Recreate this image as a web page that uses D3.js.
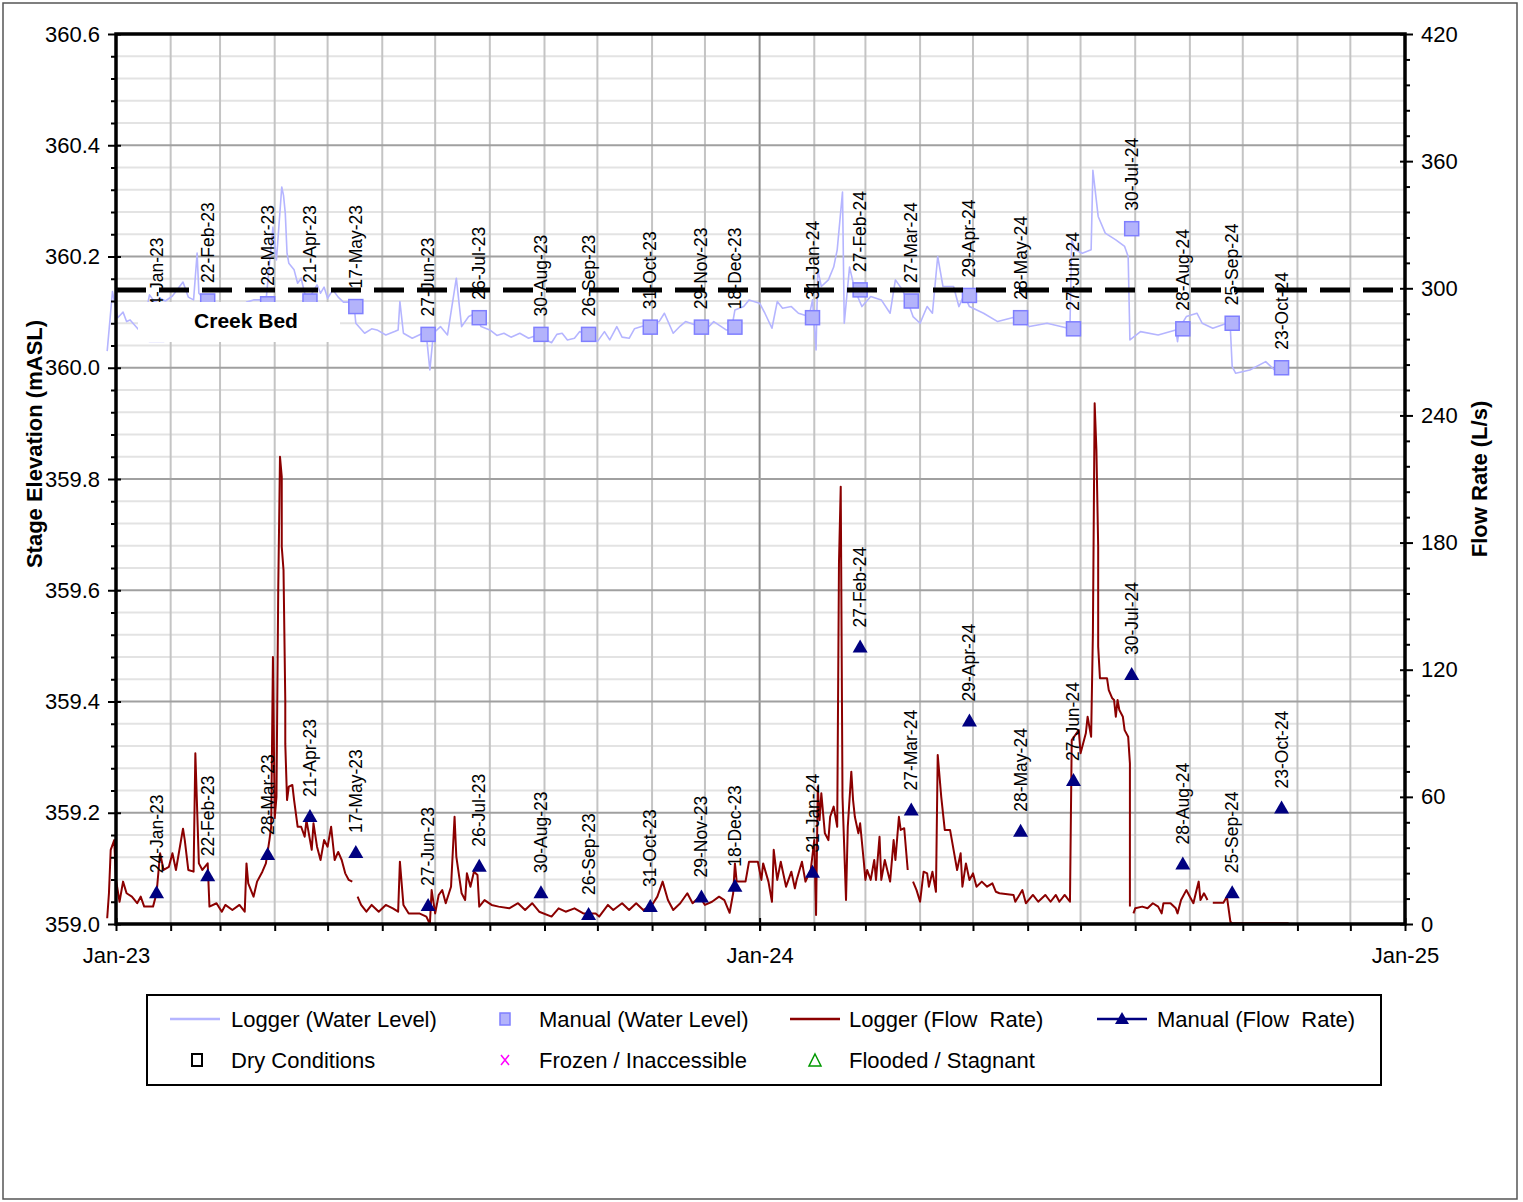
<!DOCTYPE html>
<html><head><meta charset="utf-8">
<script src="https://cdn.jsdelivr.net/npm/d3@7"></script>
<style>
body{margin:0;background:#fff}
text{font-family:"Liberation Sans",Arial,Helvetica,sans-serif;fill:#000}
</style>
</head><body>
<svg id="chart" width="1523" height="1202"></svg>
<script>
// ---------------- DATA ----------------
const levelTicks = [359.0, 359.2, 359.4, 359.6, 359.8, 360.0, 360.2, 360.4, 360.6];
const flowTicks = [0, 60, 120, 180, 240, 300, 360, 420];
const xTickDates = ["2023-01-01", "2024-01-01", "2025-01-01"];
const xTickLabels = ["Jan-23", "Jan-24", "Jan-25"];
const creekBed = 360.14;

const manualLabels = ["24-Jan-23","22-Feb-23","28-Mar-23","21-Apr-23","17-May-23","27-Jun-23","26-Jul-23","30-Aug-23","26-Sep-23","31-Oct-23","29-Nov-23","18-Dec-23","31-Jan-24","27-Feb-24","27-Mar-24","29-Apr-24","28-May-24","27-Jun-24","30-Jul-24","28-Aug-24","25-Sep-24","23-Oct-24"];
const manualLevel = [360.06,360.12,360.115,360.12,360.11,360.06,360.09,360.06,360.06,360.073,360.073,360.073,360.09,360.14,360.12,360.13,360.09,360.07,360.25,360.07,360.08,360.0];
const manualFlow = [15,23,33,51,34,9,27.5,15,4.7,8.5,13,18,24.7,131,54,96,44,68,118,28.6,15,55];

const loggerLevel = [
["2022-12-27",360.03],["2022-12-30",360.137],["2023-01-02",360.09],["2023-01-05",360.10],["2023-01-07",360.083],["2023-01-09",360.086],["2023-01-14",360.068],["2023-01-18",360.10],["2023-01-20",360.131],["2023-01-23",360.118],["2023-01-26",360.125],["2023-01-29",360.12],["2023-02-02",360.129],["2023-02-08",360.154],["2023-02-11",360.127],["2023-02-14",360.122],["2023-02-16",360.206],["2023-02-17",360.134],["2023-02-21",360.12],["2023-02-25",360.115],["2023-03-03",360.104],["2023-03-12",360.10],["2023-03-16",360.118],["2023-03-20",360.122],["2023-03-24",360.122],["2023-03-27",360.118],["2023-03-31",360.253],["2023-04-02",360.194],["2023-04-05",360.325],["2023-04-06",360.31],["2023-04-07",360.278],["2023-04-08",360.206],["2023-04-09",360.188],["2023-04-12",360.176],["2023-04-14",360.152],["2023-04-16",360.161],["2023-04-18",360.134],["2023-04-20",360.122],["2023-04-25",360.149],["2023-04-27",360.134],["2023-04-29",360.145],["2023-05-01",360.125],["2023-05-04",360.14],["2023-05-07",360.127],["2023-05-10",360.118],["2023-05-14",360.118],["2023-05-16",360.113],["2023-05-17",360.08],["2023-05-22",360.062],["2023-05-26",360.07],["2023-05-29",360.068],["2023-06-03",360.059],["2023-06-08",360.065],["2023-06-10",360.068],["2023-06-11",360.119],["2023-06-13",360.062],["2023-06-18",360.053],["2023-06-24",360.062],["2023-06-26",360.059],["2023-06-28",359.996],["2023-06-30",360.062],["2023-07-04",360.074],["2023-07-08",360.059],["2023-07-13",360.161],["2023-07-16",360.074],["2023-07-20",360.092],["2023-07-24",360.098],["2023-07-27",360.074],["2023-08-01",360.068],["2023-08-05",360.058],["2023-08-09",360.062],["2023-08-13",360.055],["2023-08-18",360.062],["2023-08-23",360.053],["2023-08-28",360.059],["2023-09-05",360.045],["2023-09-08",360.06],["2023-09-11",360.062],["2023-09-14",360.05],["2023-09-18",360.053],["2023-09-21",360.065],["2023-09-25",360.059],["2023-10-01",360.047],["2023-10-05",360.065],["2023-10-08",360.05],["2023-10-12",360.074],["2023-10-15",360.055],["2023-10-19",360.053],["2023-10-22",360.07],["2023-10-26",360.074],["2023-11-05",360.083],["2023-11-08",360.098],["2023-11-13",360.062],["2023-11-17",360.075],["2023-11-20",360.083],["2023-11-28",360.074],["2023-12-02",360.07],["2023-12-06",360.083],["2023-12-13",360.068],["2023-12-16",360.068],["2023-12-18",360.104],["2023-12-23",360.11],["2023-12-26",360.122],["2024-01-01",360.116],["2024-01-04",360.098],["2024-01-08",360.071],["2024-01-11",360.119],["2024-01-14",360.107],["2024-01-19",360.11],["2024-01-23",360.098],["2024-01-29",360.092],["2024-01-31",360.122],["2024-02-02",360.032],["2024-02-03",360.176],["2024-02-05",360.146],["2024-02-09",360.158],["2024-02-12",360.181],["2024-02-14",360.212],["2024-02-17",360.316],["2024-02-18",360.08],["2024-02-21",360.181],["2024-02-24",360.14],["2024-02-28",360.11],["2024-03-04",360.128],["2024-03-10",360.122],["2024-03-15",360.098],["2024-03-18",360.158],["2024-03-22",360.14],["2024-03-25",360.119],["2024-03-28",360.092],["2024-04-01",360.08],["2024-04-05",360.11],["2024-04-08",360.098],["2024-04-11",360.2],["2024-04-14",360.146],["2024-04-20",360.146],["2024-04-23",360.11],["2024-04-26",360.131],["2024-04-29",360.11],["2024-05-07",360.098],["2024-05-15",360.083],["2024-05-26",360.092],["2024-06-02",360.074],["2024-06-12",360.08],["2024-06-24",360.071],["2024-06-25",360.074],["2024-06-26",360.23],["2024-06-28",360.212],["2024-07-02",360.206],["2024-07-07",360.212],["2024-07-08",360.355],["2024-07-11",360.272],["2024-07-15",360.242],["2024-07-21",360.23],["2024-07-26",360.218],["2024-07-28",360.2],["2024-07-29",360.05],["2024-08-04",360.065],["2024-08-14",360.059],["2024-08-24",360.068],["2024-08-25",360.047],["2024-08-26",360.071],["2024-08-30",360.092],["2024-09-05",360.098],["2024-09-08",360.08],["2024-09-14",360.071],["2024-09-22",360.08],["2024-09-24",360.068],["2024-09-25",360.002],["2024-09-27",359.99],["2024-10-05",359.996],["2024-10-14",360.011],["2024-10-19",359.996],["2024-10-25",360.002]
];

const loggerFlow = [
["2022-12-27",2.7],["2022-12-28",14.5],["2022-12-29",35],["2022-12-31",39.6],["2023-01-01",20.8],["2023-01-03",10.5],["2023-01-05",20],["2023-01-07",14.5],["2023-01-10",12.9],["2023-01-13",9.8],["2023-01-15",12.9],["2023-01-17",8.2],["2023-01-22",8.2],["2023-01-24",14.5],["2023-01-26",33.4],["2023-01-28",25.5],["2023-01-31",27],["2023-02-02",33.4],["2023-02-04",25.5],["2023-02-08",45],["2023-02-09",39.6],["2023-02-11",25.5],["2023-02-14",24.7],["2023-02-15",80.6],["2023-02-17",28.6],["2023-02-19",25.5],["2023-02-22",28.6],["2023-02-23",8.2],["2023-02-27",9.8],["2023-03-02",5.8],["2023-03-04",9],["2023-03-08",6.6],["2023-03-12",9],["2023-03-15",5.8],["2023-03-16",28.6],["2023-03-17",19.2],["2023-03-20",12.9],["2023-03-22",20],["2023-03-25",24.7],["2023-03-27",28.6],["2023-03-29",39.6],["2023-03-30",45.9],["2023-03-31",126],["2023-04-01",50],["2023-04-02",60],["2023-04-03",157.6],["2023-04-04",220.5],["2023-04-05",211],["2023-04-05",178],["2023-04-06",167],["2023-04-07",105.7],["2023-04-07",85],["2023-04-08",58.5],["2023-04-09",64.8],["2023-04-11",65.6],["2023-04-12",58.5],["2023-04-14",45.9],["2023-04-16",45.9],["2023-04-18",41.2],["2023-04-19",49],["2023-04-22",35],["2023-04-23",47.5],["2023-04-25",36.5],["2023-04-27",30.2],["2023-04-29",39.6],["2023-05-01",36.5],["2023-05-03",45.9],["2023-05-05",30.2],["2023-05-07",34],["2023-05-09",30.2],["2023-05-11",23.9],["2023-05-13",20.8],["2023-05-15",20],["2023-05-16",null],["2023-05-18",12.9],["2023-05-20",9],["2023-05-23",5.8],["2023-05-26",9],["2023-05-30",5.8],["2023-06-03",9],["2023-06-07",7.4],["2023-06-10",5.8],["2023-06-11",29.4],["2023-06-13",9],["2023-06-16",5],["2023-06-22",5],["2023-06-26",3.5],["2023-06-28",0],["2023-06-29",16],["2023-07-01",5],["2023-07-03",13.7],["2023-07-05",16],["2023-07-07",9.8],["2023-07-10",17.6],["2023-07-12",50.6],["2023-07-13",31.8],["2023-07-16",14.5],["2023-07-18",11.3],["2023-07-19",23.9],["2023-07-21",17.6],["2023-07-23",24.7],["2023-07-25",23.1],["2023-07-26",8.2],["2023-07-29",11.3],["2023-08-02",9],["2023-08-06",8.2],["2023-08-12",7.4],["2023-08-17",9.8],["2023-08-21",6.6],["2023-08-25",9.8],["2023-08-29",5.8],["2023-09-05",3.5],["2023-09-09",7.4],["2023-09-13",5.8],["2023-09-18",7.4],["2023-09-23",5],["2023-09-30",5],["2023-10-02",3.5],["2023-10-07",9],["2023-10-10",6.6],["2023-10-15",9.8],["2023-10-19",6.6],["2023-10-23",9.8],["2023-10-27",6.6],["2023-11-01",9],["2023-11-04",12.9],["2023-11-07",20],["2023-11-10",11.3],["2023-11-13",6.6],["2023-11-17",9.8],["2023-11-21",14.5],["2023-11-24",9.8],["2023-11-28",12.9],["2023-12-01",9],["2023-12-05",10.5],["2023-12-09",12.9],["2023-12-12",11.3],["2023-12-15",5.3],["2023-12-17",14.5],["2023-12-18",28.6],["2023-12-19",20],["2023-12-24",20],["2023-12-26",29.4],["2023-12-31",29.4],["2024-01-02",20.8],["2024-01-03",28.6],["2024-01-06",20],["2024-01-08",10.5],["2024-01-09",35],["2024-01-11",20.8],["2024-01-13",29.4],["2024-01-16",17.6],["2024-01-19",24.7],["2024-01-21",16.8],["2024-01-22",20.8],["2024-01-25",29.4],["2024-01-27",20],["2024-01-30",25.5],["2024-02-01",39.6],["2024-02-02",4.2],["2024-02-03",64.8],["2024-02-04",49],["2024-02-05",61.7],["2024-02-07",42.8],["2024-02-09",39.6],["2024-02-10",50.6],["2024-02-12",55.4],["2024-02-14",45.9],["2024-02-15",170.2],["2024-02-16",206.4],["2024-02-17",60],["2024-02-19",11.3],["2024-02-20",45.9],["2024-02-22",71.9],["2024-02-23",58.5],["2024-02-24",50.6],["2024-02-26",42.8],["2024-02-27",47.5],["2024-02-29",30.2],["2024-03-01",20.8],["2024-03-02",25.5],["2024-03-04",20.8],["2024-03-06",30.2],["2024-03-07",20.8],["2024-03-09",41.2],["2024-03-10",20.8],["2024-03-12",30.2],["2024-03-15",20],["2024-03-17",39.6],["2024-03-18",30.2],["2024-03-20",50.6],["2024-03-21",44.4],["2024-03-23",45.2],["2024-03-25",25.5],["2024-03-26",null],["2024-03-28",20],["2024-03-30",16],["2024-04-01",10.5],["2024-04-03",24.7],["2024-04-05",23.9],["2024-04-06",17.6],["2024-04-08",24.7],["2024-04-10",15.2],["2024-04-11",79.8],["2024-04-13",60],["2024-04-15",44.4],["2024-04-18",44.4],["2024-04-20",35],["2024-04-22",25.5],["2024-04-24",33.4],["2024-04-25",17.6],["2024-04-27",28.6],["2024-04-29",20.8],["2024-05-01",23.9],["2024-05-03",17.6],["2024-05-06",20],["2024-05-09",17.6],["2024-05-12",19.2],["2024-05-14",15.2],["2024-05-16",14.5],["2024-05-24",13.7],["2024-05-25",10.5],["2024-05-29",16],["2024-05-31",9.8],["2024-06-04",13.7],["2024-06-07",10.5],["2024-06-11",13.7],["2024-06-14",10.5],["2024-06-17",13.7],["2024-06-19",10.5],["2024-06-22",13.7],["2024-06-25",10.5],["2024-06-26",86.8],["2024-06-30",91.5],["2024-07-01",80.6],["2024-07-04",90],["2024-07-05",97.8],["2024-07-07",88.4],["2024-07-08",137],["2024-07-09",245.7],["2024-07-10",223.7],["2024-07-11",178],["2024-07-11",130.9],["2024-07-12",116],["2024-07-16",116],["2024-07-17",110.4],["2024-07-19",106.5],["2024-07-20",105.7],["2024-07-21",97.8],["2024-07-22",105.7],["2024-07-23",101],["2024-07-25",97.8],["2024-07-26",91.5],["2024-07-28",88.4],["2024-07-29",75.8],["2024-07-29",8.2],["2024-07-30",null],["2024-07-31",5],["2024-08-01",7.4],["2024-08-05",8.2],["2024-08-08",7.4],["2024-08-11",9.8],["2024-08-14",8.2],["2024-08-16",5],["2024-08-17",9.8],["2024-08-21",9.8],["2024-08-24",7.4],["2024-08-25",5],["2024-08-27",11.3],["2024-08-30",16],["2024-09-01",12.9],["2024-09-03",9.8],["2024-09-05",16.8],["2024-09-06",20],["2024-09-07",11.3],["2024-09-09",14.5],["2024-09-11",11.3],["2024-09-12",null],["2024-09-14",10],["2024-09-20",10],["2024-09-22",12.9],["2024-09-24",1],["2024-09-25",0.3],["2024-10-27",0.3]
];

const legendRow1 = ["Logger (Water Level)", "Manual (Water Level)", "Logger (Flow  Rate)", "Manual (Flow  Rate)"];
const legendRow2 = ["Dry Conditions", "Frozen / Inaccessible", "Flooded / Stagnant"];

// ---------------- CHART ----------------
const svg = d3.select("#chart");
const parse = d3.utcParse("%Y-%m-%d");
const parseLbl = d3.utcParse("%d-%b-%y");
const L = 116, R = 1405, T = 34, B = 924;
const FONT = "Liberation Sans, Arial, sans-serif";

const x = d3.scaleUtc().domain([parse("2023-01-01"), parse("2025-01-01")]).range([L, R]);
const yL = d3.scaleLinear().domain([359.0, 360.6]).range([B, T]);
const yR = d3.scaleLinear().domain([0, 420]).range([B, T]);

// outer border
svg.append("rect").attr("x",3).attr("y",3).attr("width",1514).attr("height",1196)
  .attr("fill","#fff").attr("stroke","#555").attr("stroke-width",1.5);

// grid
const g = svg.append("g");
const minorVals = d3.range(0, 41).map(i => 359 + i * 0.04);
g.selectAll(".hmin").data(minorVals.filter((d,i)=>i%5!==0)).join("line")
  .attr("x1",L).attr("x2",R).attr("y1",d=>yL(d)).attr("y2",d=>yL(d))
  .attr("stroke","#e3e3e3").attr("stroke-width",2);
const months = d3.utcMonth.range(parse("2023-02-01"), parse("2025-01-01"));
g.selectAll(".vg").data(months).join("line")
  .attr("x1",d=>x(d)).attr("x2",d=>x(d)).attr("y1",T).attr("y2",B)
  .attr("stroke",d=>d.getUTCMonth()===0 ? "#8c8c8c" : "#c4c4c4").attr("stroke-width",2);
g.selectAll(".hmaj").data(levelTicks.slice(1,-1)).join("line")
  .attr("x1",L).attr("x2",R).attr("y1",d=>yL(d)).attr("y2",d=>yL(d))
  .attr("stroke","#a0a0a0").attr("stroke-width",2);

// lines
const lvlLine = d3.line().x(d=>x(parse(d[0]))).y(d=>yL(d[1]));
svg.append("path").datum(loggerLevel).attr("d",lvlLine)
  .attr("fill","none").attr("stroke","#b5b5ff").attr("stroke-width",1.6).attr("stroke-linejoin","round");
const flowLine = d3.line().defined(d=>d[1]!==null).x(d=>x(parse(d[0]))).y(d=>yR(d[1]));
svg.append("path").datum(loggerFlow).attr("d",flowLine)
  .attr("fill","none").attr("stroke","#8b0000").attr("stroke-width",2).attr("stroke-linejoin","round");

// manual markers
const manual = manualLabels.map((l,i)=>({label:l, date:parseLbl(l), level:manualLevel[i], flow:manualFlow[i]}));
svg.selectAll(".sq").data(manual).join("rect")
  .attr("x",d=>x(d.date)-7).attr("y",d=>yL(d.level)-7).attr("width",14).attr("height",14)
  .attr("fill","#b3b3fb").attr("stroke","#7f7fff").attr("stroke-width",1.5);
svg.selectAll(".tri").data(manual).join("path")
  .attr("d",d=>{const cx=x(d.date), cy=yR(d.flow); return `M${cx},${cy-7}L${cx+7.5},${cy+6}L${cx-7.5},${cy+6}Z`;})
  .attr("fill","#000080");

// point labels
svg.selectAll(".lblL").data(manual).join("text")
  .attr("transform",d=>`translate(${x(d.date)+6},${yL(d.level)-18}) rotate(-90)`)
  .attr("font-size",17.5).text(d=>d.label);
svg.selectAll(".lblF").data(manual).join("text")
  .attr("transform",d=>`translate(${x(d.date)+6},${yR(d.flow)-19}) rotate(-90)`)
  .attr("font-size",17.5).text(d=>d.label);

// creek bed line
svg.append("line").attr("x1",L).attr("x2",R).attr("y1",yL(creekBed)).attr("y2",yL(creekBed))
  .attr("stroke","#000").attr("stroke-width",5).attr("stroke-dasharray","30,13");
svg.append("rect").attr("x",138).attr("y",302).attr("width",202).attr("height",40).attr("fill","#fff");
svg.append("text").attr("x",246).attr("y",328).attr("text-anchor","middle")
  .attr("font-size",21).attr("font-weight","bold").text("Creek Bed");

// frame
svg.append("rect").attr("x",L).attr("y",T).attr("width",R-L).attr("height",B-T)
  .attr("fill","none").attr("stroke","#000").attr("stroke-width",3.5);

// axes
const axL = svg.append("g").attr("transform",`translate(${L},0)`)
  .call(d3.axisLeft(yL).tickValues(levelTicks).tickFormat(d3.format(".1f")).tickSize(8).tickPadding(8));
axL.selectAll(".tick line").attr("x1",5).attr("stroke-width",2);
axL.select(".domain").remove();
axL.selectAll("text").attr("font-size",22).attr("font-family",FONT);
svg.append("g").attr("transform",`translate(${L},0)`)
  .call(d3.axisLeft(yL).tickValues(minorVals.filter((d,i)=>i%5!==0)).tickFormat("").tickSize(5))
  .call(s=>{s.select(".domain").remove(); s.selectAll("line").attr("stroke-width",2);});

const axR = svg.append("g").attr("transform",`translate(${R},0)`)
  .call(d3.axisRight(yR).tickValues(flowTicks).tickSize(8).tickPadding(8));
axR.selectAll(".tick line").attr("x1",-5).attr("stroke-width",2);
axR.select(".domain").remove();
axR.selectAll("text").attr("font-size",22).attr("font-family",FONT);
svg.append("g").attr("transform",`translate(${R},0)`)
  .call(d3.axisRight(yR).tickValues(d3.range(0,421,12).filter(v=>v%60!==0)).tickFormat("").tickSize(5))
  .call(s=>{s.select(".domain").remove(); s.selectAll("line").attr("stroke-width",2);});

svg.append("g").attr("transform",`translate(0,${B})`)
  .call(d3.axisBottom(x).tickValues(months).tickFormat("").tickSize(7))
  .call(s=>{s.select(".domain").remove(); s.selectAll("line").attr("stroke-width",2);});
const axB = svg.append("g").attr("transform",`translate(0,${B})`)
  .call(d3.axisBottom(x).tickValues(xTickDates.map(parse)).tickFormat((d,i)=>xTickLabels[i]).tickSize(7).tickPadding(16));
axB.select(".domain").remove();
axB.selectAll(".tick line").attr("y1",-6).attr("stroke-width",2);
axB.selectAll("text").attr("font-size",22).attr("font-family",FONT);

// axis titles
svg.append("text").attr("transform","translate(42,444) rotate(-90)").attr("text-anchor","middle")
  .attr("font-size",22).attr("font-weight","bold").text("Stage Elevation (mASL)");
svg.append("text").attr("transform","translate(1487,479) rotate(-90)").attr("text-anchor","middle")
  .attr("font-size",22).attr("font-weight","bold").text("Flow Rate (L/s)");

// legend
const lg = svg.append("g");
lg.append("rect").attr("x",147).attr("y",995).attr("width",1234).attr("height",90)
  .attr("fill","#fff").attr("stroke","#000").attr("stroke-width",2);
const r1 = 1019, r2 = 1060;
const textX1 = [231, 539, 849, 1157];
lg.selectAll(".t1").data(legendRow1).join("text").attr("x",(d,i)=>textX1[i]).attr("y",r1).attr("dy","0.35em")
  .attr("font-size",22).style("white-space","pre").text(d=>d);
lg.selectAll(".t2").data(legendRow2).join("text").attr("x",(d,i)=>textX1[i]).attr("y",r2).attr("dy","0.35em")
  .attr("font-size",22).text(d=>d);
lg.append("line").attr("x1",170).attr("x2",220).attr("y1",r1).attr("y2",r1).attr("stroke","#b5b5ff").attr("stroke-width",2.5);
lg.append("rect").attr("x",500).attr("y",r1-6).attr("width",10).attr("height",12).attr("fill","#b3b3fb").attr("stroke","#7f7fff").attr("stroke-width",1.5);
lg.append("line").attr("x1",790).attr("x2",840).attr("y1",r1).attr("y2",r1).attr("stroke","#8b0000").attr("stroke-width",2.5);
lg.append("line").attr("x1",1097).attr("x2",1147).attr("y1",r1).attr("y2",r1).attr("stroke","#000080").attr("stroke-width",2.5);
lg.append("path").attr("d",`M1122,${r1-7}L1129,${r1+5}L1115,${r1+5}Z`).attr("fill","#000080");
lg.append("rect").attr("x",192).attr("y",r2-6).attr("width",10).attr("height",12).attr("fill","none").attr("stroke","#000").attr("stroke-width",2);
lg.append("path").attr("d",`M501,${r2-5}L509,${r2+5}M509,${r2-5}L501,${r2+5}`).attr("stroke","#ff00ff").attr("stroke-width",1.5);
lg.append("path").attr("d",`M815,${r2-6}L821,${r2+6}L809,${r2+6}Z`).attr("fill","none").attr("stroke","#009900").attr("stroke-width",1.5);
</script>
</body></html>
